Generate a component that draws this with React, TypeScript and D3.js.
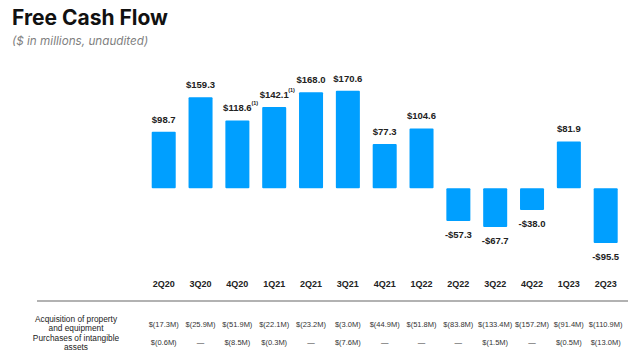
import React from "react";
import * as d3 from "d3";

const categories = ["2Q20","3Q20","4Q20","1Q21","2Q21","3Q21","4Q21","1Q22","2Q22","3Q22","4Q22","1Q23","2Q23"];
const fcf = [98.7,159.3,118.6,142.1,168.0,170.6,77.3,104.6,-57.3,-67.7,-38.0,81.9,-95.5];
const footnotes = [false,false,true,true,false,false,false,false,false,false,false,false,false];
const capex = ["$(17.3M)","$(25.9M)","$(51.9M)","$(22.1M)","$(23.2M)","$(3.0M)","$(44.9M)","$(51.8M)","$(83.8M)","$(133.4M)","$(157.2M)","$(91.4M)","$(110.9M)"];
const intangibles = ["$(0.6M)","—","$(8.5M)","$(0.3M)","—","$(7.6M)","—","—","—","$(1.5M)","—","$(0.5M)","$(13.0M)"];

const W = 640, H = 359;
const BAR = "#009FFF";
const LABEL_FONT = "'Liberation Sans', Arial, sans-serif";

function fmt(v: number) {
  return (v < 0 ? "-$" : "$") + Math.abs(v).toFixed(1);
}

export default function App() {
  const x = d3.scaleBand<string>().domain(categories).range([145.3, 624.1]).paddingInner(0.348).paddingOuter(0.174);
  const y = d3.scaleLinear().domain([-100, 180]).range([245.5, 85.3]);
  const bw = x.bandwidth();
  return (
    <svg width={W} height={H} style={{ position: "absolute", left: 0, top: 0, background: "#fff" }}>
      <text x={12} y={24.5} fontFamily="Inter, 'Noto Sans', sans-serif" fontWeight={700} fontSize={21} fill="#111">Free Cash Flow</text>
      <text x={12} y={45} fontFamily="Inter, 'Noto Sans', sans-serif" fontStyle="italic" fontSize={11.7} fill="#808080">($ in millions, unaudited)</text>
      {categories.map((c, i) => {
        const v = fcf[i];
        const x0 = x(c)!;
        const cx = x0 + bw / 2;
        const top = y(Math.max(0, v));
        const bot = y(Math.min(0, v));
        const ly = v >= 0 ? top - 9 : bot + 17;
        return (
          <g key={c}>
            <rect x={x0} y={top} width={bw} height={bot - top} fill={BAR} rx={1} />
            <text x={cx} y={ly} textAnchor="middle" fontFamily={LABEL_FONT} fontWeight={700} fontSize={9.5} fill="#222">{fmt(v)}</text>
            {footnotes[i] && (
              <text x={cx + 14} y={ly - 6} fontFamily={LABEL_FONT} fontWeight={700} fontSize={5.5} fill="#222">(1)</text>
            )}
            <text x={cx} y={287} textAnchor="middle" fontFamily={LABEL_FONT} fontWeight={700} fontSize={9} fill="#222">{c}</text>
            <text x={cx} y={327} textAnchor="middle" fontFamily={LABEL_FONT} fontSize={7.5} fill="#333">{capex[i]}</text>
            <text x={cx} y={344.5} textAnchor="middle" fontFamily={LABEL_FONT} fontSize={7.5} fill="#333">{intangibles[i]}</text>
          </g>
        );
      })}
      <line x1={37} x2={628} y1={301} y2={301} stroke="#999" strokeWidth={1.5} />
      <text textAnchor="middle" fontFamily={LABEL_FONT} fontSize={8.3} fill="#222">
        <tspan x={76} y={322}>Acquisition of property</tspan>
        <tspan x={76} y={331}>and equipment</tspan>
      </text>
      <text textAnchor="middle" fontFamily={LABEL_FONT} fontSize={8.3} fill="#222">
        <tspan x={76} y={340.5}>Purchases of intangible</tspan>
        <tspan x={76} y={349.5}>assets</tspan>
      </text>
    </svg>
  );
}
